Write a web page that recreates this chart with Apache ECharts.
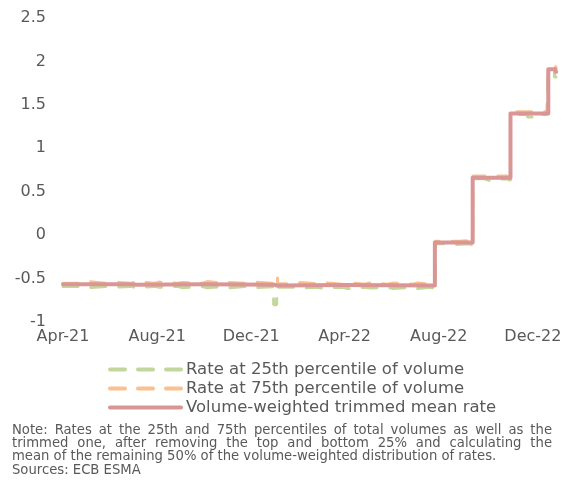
<!DOCTYPE html>
<html>
<head>
<meta charset="utf-8">
<script src="https://cdn.jsdelivr.net/npm/echarts@6/dist/echarts.min.js"></script>
<style>
html,body{margin:0;padding:0;background:#fff;}
#c{width:565px;height:497px;}
</style>
</head>
<body>
<div id="c"></div>
<script>
// ---- data ----
const startDate = '2021-04-01';
const endDate = '2022-12-31';
const tickLabels = ['Apr-21', 'Aug-21', 'Dec-21', 'Apr-22', 'Aug-22', 'Dec-22'];
const seriesNames = ['Rate at 25th percentile of volume', 'Rate at 75th percentile of volume', 'Volume-weighted trimmed mean rate'];

const p25 = [
  ['2021-04-01', -0.59], ['2021-04-28', -0.605], ['2021-05-05', -0.59], ['2021-05-27', -0.6], ['2021-06-03', -0.59],
  ['2021-06-28', -0.605], ['2021-07-05', -0.59], ['2021-07-28', -0.6], ['2021-08-04', -0.59], ['2021-08-27', -0.605],
  ['2021-09-03', -0.59], ['2021-09-28', -0.605], ['2021-10-05', -0.59], ['2021-10-27', -0.605], ['2021-11-03', -0.59],
  ['2021-11-26', -0.605], ['2021-12-03', -0.595], ['2021-12-30', -0.8], ['2022-01-03', -0.6], ['2022-01-27', -0.61],
  ['2022-02-03', -0.6], ['2022-02-24', -0.61], ['2022-03-03', -0.6], ['2022-03-29', -0.615], ['2022-04-05', -0.6],
  ['2022-04-27', -0.61], ['2022-05-04', -0.6], ['2022-05-27', -0.615], ['2022-06-03', -0.6], ['2022-06-28', -0.615],
  ['2022-07-05', -0.6], ['2022-07-21', -0.615], ['2022-07-27', -0.1], ['2022-08-08', -0.11], ['2022-08-22', -0.1],
  ['2022-09-09', -0.11], ['2022-09-14', 0.65], ['2022-09-29', 0.63], ['2022-10-05', 0.65], ['2022-10-28', 0.63],
  ['2022-11-02', 1.39], ['2022-11-24', 1.36], ['2022-12-01', 1.39], ['2022-12-19', 1.38], ['2022-12-21', 1.9],
  ['2022-12-29', 1.82], ['2022-12-31', 1.82]
];

const p75 = [
  ['2021-04-01', -0.555], ['2021-04-28', -0.535], ['2021-05-04', -0.555], ['2021-05-27', -0.54], ['2021-06-03', -0.555],
  ['2021-06-28', -0.535], ['2021-07-05', -0.555], ['2021-07-28', -0.54], ['2021-08-04', -0.555], ['2021-08-27', -0.545],
  ['2021-09-03', -0.555], ['2021-09-28', -0.535], ['2021-10-05', -0.555], ['2021-10-27', -0.545], ['2021-11-03', -0.555],
  ['2021-11-26', -0.54], ['2021-12-03', -0.555], ['2021-12-29', -0.48], ['2022-01-04', -0.56], ['2022-01-27', -0.545],
  ['2022-02-03', -0.56], ['2022-02-24', -0.545], ['2022-03-03', -0.565], ['2022-03-29', -0.545], ['2022-04-05', -0.565],
  ['2022-04-27', -0.55], ['2022-05-04', -0.565], ['2022-05-27', -0.55], ['2022-06-03', -0.565], ['2022-06-28', -0.55],
  ['2022-07-05', -0.565], ['2022-07-22', -0.555], ['2022-07-27', -0.07], ['2022-08-29', -0.065], ['2022-09-05', -0.08],
  ['2022-09-14', 0.68], ['2022-10-27', 0.67], ['2022-11-02', 1.42], ['2022-11-21', 1.42], ['2022-12-21', 1.94],
  ['2022-12-31', 1.92]
];

const trimmedMean = [
  ['2021-04-01', -0.565], ['2021-06-30', -0.57], ['2021-07-05', -0.565], ['2021-10-01', -0.57], ['2021-12-31', -0.58],
  ['2022-01-03', -0.575], ['2022-04-01', -0.58], ['2022-07-27', -0.085], ['2022-09-14', 0.66], ['2022-11-02', 1.4],
  ['2022-12-21', 1.91], ['2022-12-30', 1.89], ['2022-12-31', 1.88]
];

const noteLines = [
  'Note: Rates at the 25th and 75th percentiles of total volumes as well as the',
  'trimmed one, after removing the top and bottom 25% and calculating the',
  'mean of the remaining 50% of the volume-weighted distribution of rates.',
  'Sources: ECB ESMA'
];

// ---- build category axis (calendar days) ----
const categories = [];
for (let d = new Date(startDate + 'T00:00:00Z'); d <= new Date(endDate + 'T00:00:00Z'); d.setUTCDate(d.getUTCDate() + 1)) {
  categories.push(d.toISOString().slice(0, 10));
}
const monthNames = ['Jan','Feb','Mar','Apr','May','Jun','Jul','Aug','Sep','Oct','Nov','Dec'];
const fmt = s => monthNames[+s.slice(5, 7) - 1] + '-' + s.slice(2, 4);

const textColor = '#595959';
const font = '"DejaVu Sans", "Liberation Sans", sans-serif';

// ---- justified note text ----
const measureCtx = document.createElement('canvas').getContext('2d');
const noteFontSize = 13.2;
measureCtx.font = noteFontSize + 'px ' + font;
const noteLeft = 12, noteRight = 552, noteTop = 430.5, noteLH = 13.2;
const noteEls = [];
noteLines.forEach((line, li) => {
  const y = noteTop + li * noteLH;
  const justify = li < 2;
  const words = justify ? line.split(' ') : [line];
  const widths = words.map(w => measureCtx.measureText(w).width);
  const total = widths.reduce((a, b) => a + b, 0);
  const gap = justify ? (noteRight - noteLeft - total) / (words.length - 1) : 0;
  let x = noteLeft;
  words.forEach((w, i) => {
    noteEls.push({type: 'text', x: x, y: y, style: {text: w, font: noteFontSize + 'px ' + font, fill: textColor, verticalAlign: 'middle'}});
    x += widths[i] + gap;
  });
});

const chart = echarts.init(document.getElementById('c'), null, {renderer: 'canvas'});
chart.setOption({
  animation: false,
  backgroundColor: '#ffffff',
  textStyle: {fontFamily: font},
  grid: {left: 63, top: 18, width: 493, height: 304, containLabel: false},
  xAxis: {
    type: 'category',
    data: categories,
    boundaryGap: false,
    axisLine: {show: false},
    axisTick: {show: false},
    splitLine: {show: false},
    axisLabel: {
      color: textColor,
      fontSize: 16,
      fontFamily: font,
      margin: 7,
      interval: (idx, val) => val.slice(8) === '01' && tickLabels.indexOf(fmt(val)) >= 0,
      formatter: val => fmt(val)
    }
  },
  yAxis: {
    type: 'value',
    min: -1,
    max: 2.5,
    interval: 0.5,
    axisLine: {show: false},
    axisTick: {show: false},
    splitLine: {show: false},
    axisLabel: {color: textColor, fontSize: 16, fontFamily: font, margin: 17}
  },
  legend: {
    orient: 'vertical',
    left: 108,
    top: 361,
    padding: 0,
    itemWidth: 71,
    itemHeight: 14,
    itemGap: 2,
    itemStyle: {opacity: 0},
    lineStyle: {width: 4},
    textStyle: {color: textColor, fontSize: 16.5, fontFamily: font},
    data: seriesNames
  },
  series: [
    {
      name: seriesNames[0], type: 'line', step: 'end', data: p25, symbol: 'none',
      lineStyle: {color: '#C3D69B', width: 3, type: [15, 13], cap: 'round'},
      itemStyle: {color: '#C3D69B'}
    },
    {
      name: seriesNames[1], type: 'line', step: 'end', data: p75, symbol: 'none',
      lineStyle: {color: '#FAC090', width: 3, type: [15, 13], cap: 'round'},
      itemStyle: {color: '#FAC090'}
    },
    {
      name: seriesNames[2], type: 'line', step: 'end', data: trimmedMean, symbol: 'none',
      lineStyle: {color: '#D99694', width: 4, cap: 'round', join: 'round'},
      itemStyle: {color: '#D99694'}
    }
  ],
  graphic: noteEls
});
</script>
</body>
</html>
